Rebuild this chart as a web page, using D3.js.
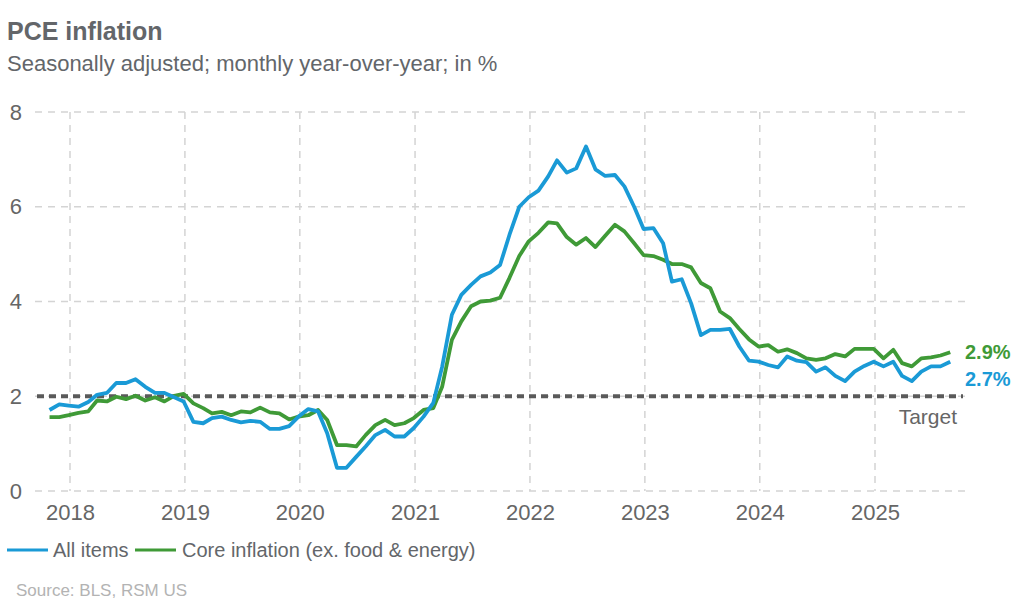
<!DOCTYPE html>
<html lang="en">
  <head>
    <meta charset="utf-8" />
    <title>PCE inflation</title>
    <style>
      body {
        margin: 0;
        padding: 0;
        background: #fff;
      }

      #chart text {
        font-family: "Liberation Sans", Arial, sans-serif;
      }
    </style>
  </head>
  <body>
    <svg id="chart" width="1020" height="600"></svg>

    <script src="https://d3js.org/d3.v7.min.js"></script>
    <script type="text/javascript">
(function(d3) {
    'use strict';

    // monthly series, Oct 2017 .. Aug 2025
    var firstMonth = new Date(2017, 9, 28);
    var allItems = [
      1.71, 1.83, 1.80, 1.78, 1.88, 2.03, 2.07, 2.28, 2.28, 2.36, 2.20, 2.07,
      2.07, 1.98, 1.89, 1.46, 1.43, 1.54, 1.57, 1.50, 1.45, 1.48, 1.46, 1.31,
      1.31, 1.37, 1.57, 1.73, 1.68, 1.22, 0.49, 0.49, 0.72, 0.94, 1.18, 1.29,
      1.15, 1.15, 1.33, 1.57, 1.86, 2.62, 3.72, 4.14, 4.35, 4.53, 4.61, 4.77,
      5.41, 6.00, 6.20, 6.34, 6.64, 6.98, 6.72, 6.81, 7.27, 6.79, 6.65, 6.67,
      6.43, 6.00, 5.53, 5.55, 5.23, 4.42, 4.47, 3.96, 3.29, 3.40, 3.40, 3.42,
      3.05, 2.75, 2.73, 2.66, 2.61, 2.84, 2.75, 2.72, 2.52, 2.61, 2.43, 2.32,
      2.52, 2.64, 2.73, 2.63, 2.73, 2.43, 2.32, 2.52, 2.63, 2.63, 2.73
    ];
    var core = [
      1.56, 1.56, 1.60, 1.65, 1.68, 1.91, 1.89, 1.99, 1.94, 2.01, 1.91, 1.98,
      1.89, 2.01, 2.05, 1.85, 1.75, 1.64, 1.67, 1.60, 1.68, 1.66, 1.76, 1.66,
      1.64, 1.51, 1.57, 1.60, 1.71, 1.50, 0.97, 0.97, 0.94, 1.18, 1.39, 1.50,
      1.39, 1.43, 1.54, 1.71, 1.75, 2.20, 3.19, 3.58, 3.90, 4.00, 4.02, 4.08,
      4.50, 4.96, 5.27, 5.45, 5.67, 5.65, 5.36, 5.20, 5.34, 5.15, 5.39, 5.62,
      5.48, 5.23, 4.98, 4.96, 4.88, 4.79, 4.79, 4.72, 4.39, 4.28, 3.79, 3.65,
      3.42, 3.20, 3.05, 3.08, 2.94, 2.99, 2.91, 2.80, 2.77, 2.80, 2.89, 2.84,
      3.00, 3.00, 3.00, 2.80, 2.98, 2.70, 2.63, 2.80, 2.82, 2.86, 2.93
    ];
    var yearTicks = [2018, 2019, 2020, 2021, 2022, 2023, 2024, 2025];
    var valueTicks = [0, 2, 4, 6, 8];
    var target = 2;
    var endLabels = ['2.7%', '2.9%'];

    var blue = '#1a9ad6';
    var green = '#3f9a37';
    var grey = '#63666a';

    var months = allItems.map(function(v, i) {
      return d3.timeMonth.offset(firstMonth, i);
    });

    var svg = d3.select('#chart');
    var left = 35, right = 965, top = 112, bottom = 491;

    var x = d3.scaleTime()
      .domain([new Date(2018, 0, 1), new Date(2025, 0, 1)])
      .range([70, 875]);
    var y = d3.scaleLinear().domain([0, 8]).range([bottom, top]);

    // title
    svg.append('text').attr('x', 7).attr('y', 40)
      .attr('font-size', 25).attr('font-weight', 'bold').attr('fill', grey)
      .text('PCE inflation');
    svg.append('text').attr('x', 7).attr('y', 71)
      .attr('font-size', 22).attr('fill', grey)
      .text('Seasonally adjusted; monthly year-over-year; in %');

    // grid
    var grid = svg.append('g')
      .attr('stroke', '#d4d4d4').attr('stroke-width', 1.5)
      .attr('stroke-dasharray', '7,6').attr('fill', 'none');
    grid.selectAll('line.h').data(valueTicks).join('line')
      .attr('class', 'h')
      .attr('x1', left).attr('x2', right)
      .attr('y1', function(d) { return y(d); })
      .attr('y2', function(d) { return y(d); });
    grid.selectAll('line.v').data(yearTicks).join('line')
      .attr('class', 'v')
      .attr('x1', function(d) { return x(new Date(d, 0, 1)); })
      .attr('x2', function(d) { return x(new Date(d, 0, 1)); })
      .attr('y1', top).attr('y2', bottom);

    // axes (labels only)
    var xAxis = svg.append('g')
      .attr('transform', 'translate(0,' + (bottom + 10) + ')')
      .call(d3.axisBottom(x)
        .tickValues(yearTicks.map(function(d) { return new Date(d, 0, 1); }))
        .tickSize(0)
        .tickFormat(d3.timeFormat('%Y')));
    xAxis.select('.domain').remove();
    xAxis.selectAll('text').attr('font-size', 22).attr('fill', '#666')
      .attr('font-family', '"Liberation Sans", Arial, sans-serif');

    var yAxis = svg.append('g')
      .attr('transform', 'translate(25,0)')
      .call(d3.axisLeft(y).tickValues(valueTicks).tickSize(0));
    yAxis.select('.domain').remove();
    yAxis.selectAll('text').attr('font-size', 22).attr('fill', '#666')
      .attr('font-family', '"Liberation Sans", Arial, sans-serif');

    // target line
    svg.append('line')
      .attr('x1', left + 2).attr('x2', right - 2)
      .attr('y1', y(target)).attr('y2', y(target))
      .attr('stroke', '#5a5a5a').attr('stroke-width', 4)
      .attr('stroke-dasharray', '7,5');
    svg.append('text').attr('x', 957).attr('y', 424)
      .attr('text-anchor', 'end').attr('font-size', 21).attr('fill', '#666')
      .text('Target');

    // series
    var line = d3.line()
      .x(function(d, i) { return x(months[i]); })
      .y(function(d) { return y(d); });

    svg.append('path').datum(core)
      .attr('d', line).attr('fill', 'none')
      .attr('stroke', green).attr('stroke-width', 3.8)
      .attr('stroke-linejoin', 'round');
    svg.append('path').datum(allItems)
      .attr('d', line).attr('fill', 'none')
      .attr('stroke', blue).attr('stroke-width', 3.8)
      .attr('stroke-linejoin', 'round');

    svg.append('text').attr('x', 965).attr('y', 359)
      .attr('font-size', 20).attr('font-weight', 'bold').attr('fill', green)
      .text(endLabels[1]);
    svg.append('text').attr('x', 965).attr('y', 386)
      .attr('font-size', 20).attr('font-weight', 'bold').attr('fill', blue)
      .text(endLabels[0]);

    // legend
    var legend = svg.append('g');
    legend.append('line').attr('x1', 7).attr('x2', 48)
      .attr('y1', 550).attr('y2', 550)
      .attr('stroke', blue).attr('stroke-width', 3);
    legend.append('text').attr('x', 53).attr('y', 557)
      .attr('font-size', 20).attr('fill', grey).text('All items');
    legend.append('line').attr('x1', 135).attr('x2', 176)
      .attr('y1', 550).attr('y2', 550)
      .attr('stroke', green).attr('stroke-width', 3);
    legend.append('text').attr('x', 182).attr('y', 557)
      .attr('font-size', 20).attr('fill', grey)
      .text('Core inflation (ex. food & energy)');

    svg.append('text').attr('x', 16).attr('y', 596)
      .attr('font-size', 17).attr('fill', '#b3b3b3')
      .text('Source: BLS, RSM US');

})(d3);
    </script>
  </body>
</html>
